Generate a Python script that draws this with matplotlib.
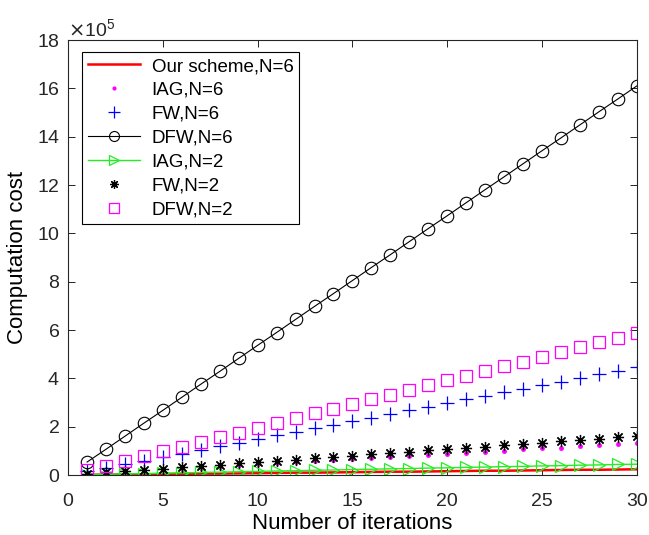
import numpy as np
import matplotlib
matplotlib.use("Agg")
import matplotlib.pyplot as plt

plt.rcParams['font.family'] = ['Liberation Sans', 'DejaVu Sans']

iterations = list(range(1, 31))

# computation cost, in units of 1e5
ours_n6 = [0.01, 0.02, 0.02, 0.03, 0.04, 0.05, 0.06, 0.06, 0.07, 0.08,
           0.09, 0.10, 0.10, 0.11, 0.12, 0.13, 0.14, 0.14, 0.15, 0.16,
           0.17, 0.18, 0.18, 0.19, 0.20, 0.21, 0.22, 0.22, 0.23, 0.24]
iag_n6 = [0.04, 0.09, 0.13, 0.18, 0.22, 0.26, 0.31, 0.35, 0.40, 0.44,
          0.48, 0.53, 0.57, 0.62, 0.66, 0.70, 0.75, 0.79, 0.84, 0.88,
          0.92, 0.97, 1.01, 1.06, 1.10, 1.14, 1.19, 1.23, 1.28, 1.32]
fw_n6 = [0.15, 0.30, 0.45, 0.60, 0.75, 0.89, 1.04, 1.19, 1.34, 1.49,
         1.64, 1.79, 1.94, 2.09, 2.24, 2.38, 2.53, 2.68, 2.83, 2.98,
         3.13, 3.28, 3.43, 3.58, 3.73, 3.87, 4.02, 4.17, 4.32, 4.47]
dfw_n6 = [0.54, 1.07, 1.61, 2.15, 2.68, 3.22, 3.76, 4.29, 4.83, 5.37,
          5.90, 6.44, 6.98, 7.51, 8.05, 8.59, 9.12, 9.66, 10.20, 10.73,
          11.27, 11.81, 12.34, 12.88, 13.42, 13.95, 14.49, 15.03, 15.56, 16.10]
iag_n2 = [0.02, 0.03, 0.05, 0.06, 0.08, 0.09, 0.11, 0.12, 0.14, 0.15,
          0.17, 0.18, 0.20, 0.21, 0.23, 0.24, 0.26, 0.27, 0.29, 0.30,
          0.32, 0.33, 0.35, 0.36, 0.38, 0.39, 0.41, 0.42, 0.44, 0.45]
fw_n2 = [0.05, 0.11, 0.16, 0.21, 0.27, 0.32, 0.38, 0.43, 0.48, 0.54,
         0.59, 0.64, 0.70, 0.75, 0.81, 0.86, 0.91, 0.97, 1.02, 1.07,
         1.13, 1.18, 1.23, 1.29, 1.34, 1.40, 1.45, 1.50, 1.56, 1.61]
dfw_n2 = [0.20, 0.39, 0.59, 0.78, 0.98, 1.18, 1.37, 1.57, 1.76, 1.96,
          2.16, 2.35, 2.55, 2.74, 2.94, 3.14, 3.33, 3.53, 3.72, 3.92,
          4.12, 4.31, 4.51, 4.70, 4.90, 5.10, 5.29, 5.49, 5.68, 5.88]

scale = 1e5
x = np.array(iterations)

fig = plt.figure(figsize=(6.49, 5.35), dpi=100, facecolor='w')
ax = fig.add_axes([0.105, 0.112, 0.876, 0.813])

ax.plot(x, np.array(ours_n6) * scale, color='red', lw=1.8, label='Our scheme,N=6')
ax.plot(x, np.array(iag_n6) * scale, ls='none', marker='.', color='magenta', ms=5, label='IAG,N=6')
ax.plot(x, np.array(fw_n6) * scale, ls='none', marker='+', color='blue', ms=10, mew=0.9, label='FW,N=6')
ax.plot(x, np.array(dfw_n6) * scale, color='black', lw=0.8, marker='o', mfc='none', ms=9, mew=0.8, label='DFW,N=6')
ax.plot(x, np.array(iag_n2) * scale, color='#22ee22', lw=1.0, marker='>', mfc='none', ms=9, mew=0.9, label='IAG,N=2')
ax.plot(x, np.array(fw_n2) * scale, ls='none', marker=(8, 2, 0), color='black', ms=8, mew=0.9, label='FW,N=2')
ax.plot(x, np.array(dfw_n2) * scale, ls='none', marker='s', mfc='none', color='magenta', ms=9, mew=0.9, label='DFW,N=2')

ax.set_xlim(0, 30)
ax.set_ylim(0, 18e5)
ax.set_xticks(range(0, 31, 5))
ax.set_yticks(np.arange(0, 19, 2) * scale)
ax.ticklabel_format(axis='y', style='sci', scilimits=(5, 5), useMathText=True)
ax.yaxis.get_offset_text().set_fontsize(14)

ax.tick_params(direction='in', top=True, right=True, labelsize=14, length=5, width=0.6,
               labelcolor='#262626')
ax.tick_params(axis='x', pad=13)
ax.tick_params(axis='y', pad=6)
for sp in ax.spines.values():
    sp.set_linewidth(0.8)
    sp.set_color('#262626')

ax.set_xlabel('Number of iterations', fontsize=16, labelpad=2)
ax.set_ylabel('Computation cost', fontsize=16, labelpad=6)

leg = ax.legend(loc='upper left', fontsize=13.5, fancybox=False, edgecolor='black',
                framealpha=1, handlelength=2.8, handletextpad=0.6, borderpad=0.3,
                labelspacing=0.36, borderaxespad=0, markerscale=0.8,
                bbox_to_anchor=(0.025, 0.972))
leg.get_frame().set_linewidth(0.8)

plt.savefig('out.png', dpi=100)
plt.close()
